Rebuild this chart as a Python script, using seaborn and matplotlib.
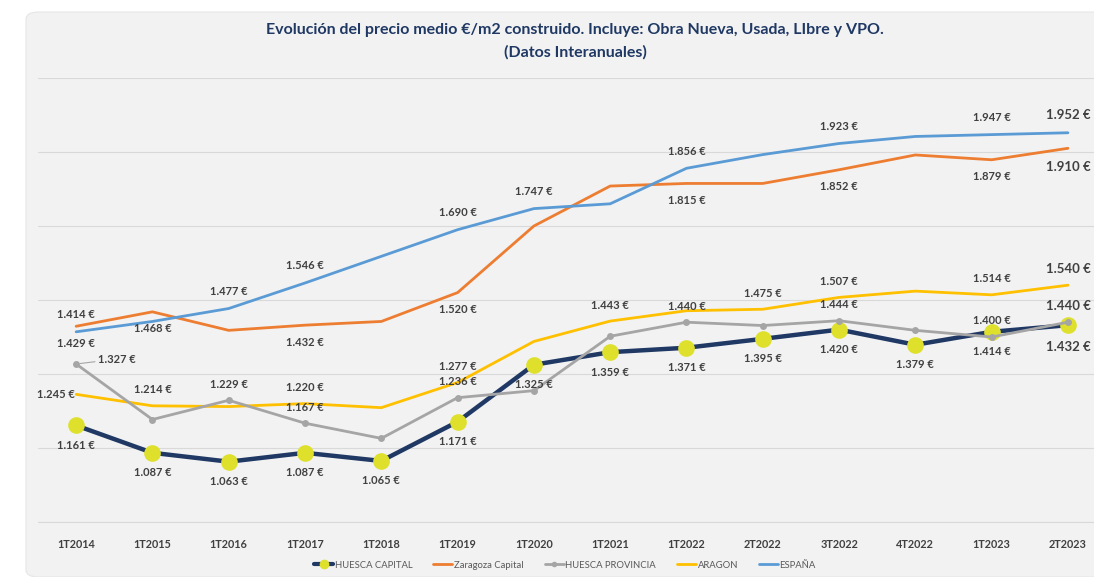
import pandas as pd
import matplotlib.pyplot as plt
import seaborn as sns
from matplotlib.patches import FancyBboxPatch
from matplotlib.lines import Line2D

# Periods (x axis)
periods = ["1T2014", "1T2015", "1T2016", "1T2017", "1T2018", "1T2019", "1T2020",
           "1T2021", "1T2022", "2T2022", "3T2022", "4T2022", "1T2023", "2T2023"]

# Average price €/m2 (unlabeled points estimated)
huesca_capital = [1161, 1087, 1063, 1087, 1065, 1171, 1325, 1359, 1371, 1395, 1420, 1379, 1414, 1432]
zaragoza_capital = [1429, 1468, 1418, 1432, 1442, 1520, 1700, 1808, 1815, 1815, 1852, 1892, 1879, 1910]
huesca_provincia = [1327, 1177, 1229, 1167, 1126, 1236, 1255, 1402, 1440, 1431, 1444, 1418, 1400, 1440]
aragon = [1245, 1214, 1212, 1220, 1209, 1277, 1388, 1443, 1471, 1475, 1507, 1524, 1514, 1540]
espana = [1414, 1442, 1477, 1546, 1618, 1690, 1747, 1760, 1856, 1893, 1923, 1942, 1947, 1952]

# which points carry a data label
labels_huesca_capital = list(range(14))
labels_zaragoza = [0, 1, 3, 5, 8, 10, 12, 13]
labels_provincia = [2, 3, 5, 8, 10, 12, 13]
labels_aragon = [0, 1, 3, 5, 7, 9, 10, 12, 13]
labels_espana = [0, 2, 3, 5, 6, 8, 10, 12, 13]

sns.set_style("white")
plt.rcParams['font.family'] = ['Lato', 'DejaVu Sans']

W, H = 1094, 577
fig = plt.figure(figsize=(W / 100, H / 100), dpi=100)
fig.patch.set_facecolor("white")

# grey card behind the chart
card = FancyBboxPatch((26 / W, 0), 1.2, (H - 12) / H, boxstyle="round,pad=0,rounding_size=0.012",
                      transform=fig.transFigure, facecolor="#f2f2f2", edgecolor="#e6e6e6",
                      linewidth=0.8, zorder=-5)
fig.patches.append(card)

ax = fig.add_axes([38 / W, (H - 522) / H, (W - 38) / W, (522 - 78) / H])
ax.set_facecolor("none")
ax.set_zorder(2)

x = list(range(len(periods)))
df = pd.DataFrame({"periodo": x, "HUESCA CAPITAL": huesca_capital,
                   "Zaragoza Capital": zaragoza_capital, "HUESCA PROVINCIA": huesca_provincia,
                   "ARAGON": aragon, "ESPAÑA": espana})

colors = {
    "HUESCA CAPITAL": "#1f3864",
    "Zaragoza Capital": "#ed7d31",
    "HUESCA PROVINCIA": "#a5a5a5",
    "ARAGON": "#ffc000",
    "ESPAÑA": "#5b9bd5",
}

sns.lineplot(data=df, x="periodo", y="Zaragoza Capital", color=colors["Zaragoza Capital"], lw=2, ax=ax, zorder=3)
sns.lineplot(data=df, x="periodo", y="ESPAÑA", color=colors["ESPAÑA"], lw=2, ax=ax, zorder=3)
sns.lineplot(data=df, x="periodo", y="ARAGON", color=colors["ARAGON"], lw=2, ax=ax, zorder=3)
sns.lineplot(data=df, x="periodo", y="HUESCA CAPITAL", color=colors["HUESCA CAPITAL"], lw=3.2,
             marker="o", markersize=12, markerfacecolor="#dfe02c", markeredgewidth=0, ax=ax, zorder=4)
sns.lineplot(data=df, x="periodo", y="HUESCA PROVINCIA", color=colors["HUESCA PROVINCIA"], lw=2,
             marker="o", markersize=5, markeredgewidth=0, ax=ax, zorder=5)

ax.set_xlim(-0.5, 13 + (W - 1068) / 76.15)
ax.set_ylim(900, 2100)
ax.set_yticks(range(900, 2101, 200))
ax.set_yticklabels([])
ax.grid(axis="y", color="#d9d9d9", lw=0.8)
ax.grid(axis="x", visible=False)
ax.axhline(900, color="#d9d9d9", lw=0.8, clip_on=False, zorder=1)
for s in ax.spines.values():
    s.set_visible(False)
ax.set_xticks(x)
ax.set_xticklabels(periods, fontsize=7.8, fontweight="bold", color="#404040")
ax.tick_params(axis="both", length=0, pad=12)
ax.set_xlabel("")
ax.set_ylabel("")


def fmt(v):
    return f"{v:,}".replace(",", ".") + " €"


def put_labels(vals, idx, dy, special=None):
    special = special or {}
    for i in idx:
        ox, oy = special.get(i, (0, dy))
        big = i == len(vals) - 1
        ax.annotate(fmt(vals[i]), (i, vals[i]), xytext=(ox, oy), textcoords="offset pixels",
                    ha="center", va="center", fontsize=9.5 if big else 8,
                    fontweight="bold", color="#404040", zorder=6)


put_labels(espana, labels_espana, 17, {13: (0, 18)})
put_labels(zaragoza_capital, labels_zaragoza, -17, {13: (0, -19)})
put_labels(aragon, labels_aragon, 16, {0: (-20, 0)})
put_labels(huesca_provincia, labels_provincia, 16)
put_labels(huesca_capital, labels_huesca_capital, -20, {13: (0, -22)})
# leader line label for first HUESCA PROVINCIA point
ax.annotate(fmt(huesca_provincia[0]), (0, huesca_provincia[0]), xytext=(41, 5), textcoords="offset pixels",
            ha="center", va="center", fontsize=8, fontweight="bold", color="#404040",
            arrowprops=dict(arrowstyle="-", color="#a5a5a5", lw=0.8, shrinkA=15, shrinkB=3), zorder=6)

fig.text(575 / W, 1 - 30 / H, "Evolución del precio medio €/m2 construido. Incluye: Obra Nueva, Usada, LIbre y VPO.",
         ha="center", va="center", fontsize=11.5, fontweight="bold", color="#1f3864")
fig.text(575 / W, 1 - 52 / H, "(Datos Interanuales)",
         ha="center", va="center", fontsize=11.5, fontweight="bold", color="#1f3864")

handles = [
    Line2D([], [], color=colors["HUESCA CAPITAL"], lw=3, marker="o", markersize=7,
           markerfacecolor="#dfe02c", markeredgewidth=0),
    Line2D([], [], color=colors["Zaragoza Capital"], lw=2),
    Line2D([], [], color=colors["HUESCA PROVINCIA"], lw=2, marker="o", markersize=4, markeredgewidth=0),
    Line2D([], [], color=colors["ARAGON"], lw=2),
    Line2D([], [], color=colors["ESPAÑA"], lw=2),
]
fig.legend(handles, list(colors.keys()), loc="center", bbox_to_anchor=(565 / W, 1 - 565 / H),
           ncol=5, frameon=False, fontsize=6.8, handlelength=2, handletextpad=0.2,
           columnspacing=2.2, labelcolor="#595959")

fig.savefig("out.png", dpi=100)
